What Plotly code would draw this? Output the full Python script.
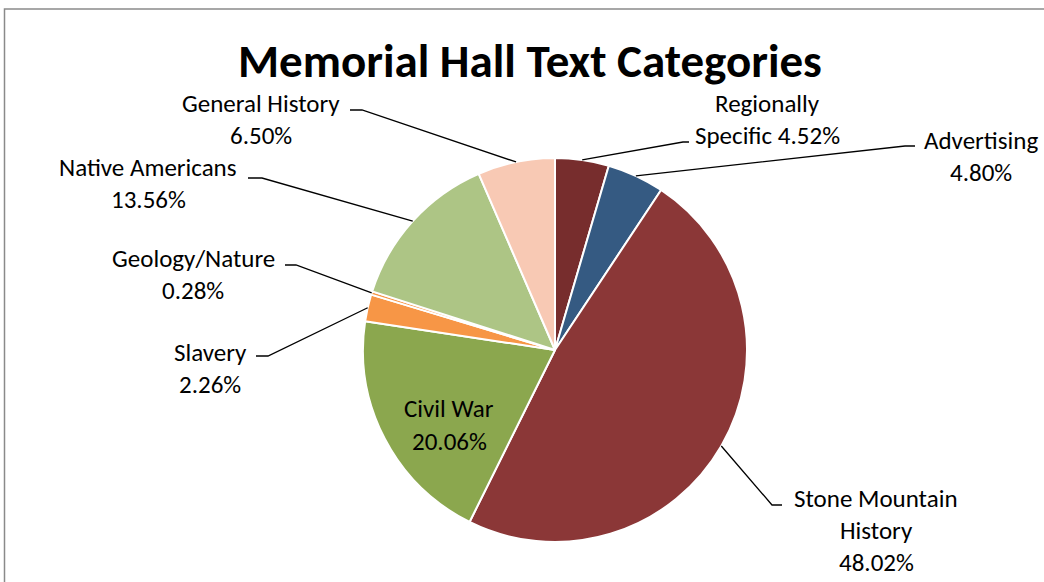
import math
import plotly.graph_objects as go

W, H = 1044, 582

categories = ["Regionally Specific", "Advertising", "Stone Mountain History", "Civil War",
              "Slavery", "Geology/Nature", "Native Americans", "General History"]
shares = [4.52, 4.80, 48.02, 20.06, 2.26, 0.28, 13.56, 6.50]
colors = ["#772D2D", "#355A82", "#8B3737", "#8BA74E", "#F79646", "#F79646", "#ADC585", "#F8C9B4"]

# label text lines per category
label_lines = {
    "Regionally Specific": ["Regionally", "Specific 4.52%"],
    "Advertising": ["Advertising", "4.80%"],
    "Stone Mountain History": ["Stone Mountain", "History", "48.02%"],
    "Civil War": ["Civil War", "20.06%"],
    "Slavery": ["Slavery", "2.26%"],
    "Geology/Nature": ["Geology/Nature", "0.28%"],
    "Native Americans": ["Native Americans", "13.56%"],
    "General History": ["General History", "6.50%"],
}

# label layout (pixel positions): centre x, first line y, elbow point, horizontal tail end
label_layout = {
    "Regionally Specific": dict(cx=767, y=103, elbow=(683, 142), tail=(689, 142)),
    "Advertising": dict(cx=981, y=140, elbow=(905, 146), tail=(915, 146)),
    "Stone Mountain History": dict(cx=876, y=498, elbow=(772, 505), tail=(782, 505)),
    "Civil War": dict(cx=449, y=409, elbow=None, tail=None),
    "Slavery": dict(cx=210, y=352, elbow=(268, 356), tail=(256, 356)),
    "Geology/Nature": dict(cx=193, y=258, elbow=(296, 265), tail=(285, 265)),
    "Native Americans": dict(cx=148, y=167, elbow=(262, 178), tail=(248, 178)),
    "General History": dict(cx=261, y=103, elbow=(362, 110), tail=(350, 110)),
}

CX, CY, R = 555, 350, 192
LINE_GAP = 32
FONT = "Carlito, Calibri, Lato, sans-serif"


def px(x):
    return x / W


def py(y):
    return 1 - y / H


fig = go.Figure(go.Pie(
    labels=categories,
    values=shares,
    sort=False,
    direction="clockwise",
    rotation=0,
    textinfo="none",
    hoverinfo="label+percent",
    marker=dict(colors=colors, line=dict(color="white", width=2)),
    domain=dict(x=[px(CX - R), px(CX + R)], y=[py(CY + R), py(CY - R)]),
    showlegend=False,
))

annotations = []
shapes = []

total = sum(shares)
cum = 0.0
for cat, val in zip(categories, shares):
    mid = (cum + val / 2) / total * 2 * math.pi
    cum += val
    lay = label_layout[cat]
    for i, line in enumerate(label_lines[cat]):
        annotations.append(dict(
            x=px(lay["cx"]), y=py(lay["y"] + i * LINE_GAP), xref="paper", yref="paper",
            text=line, showarrow=False, xanchor="center", yanchor="middle",
            font=dict(family=FONT, size=25, color="black"),
        ))
    if lay["elbow"] is not None:
        sx = CX + R * math.sin(mid)
        sy = CY - R * math.cos(mid)
        ex, ey = lay["elbow"]
        tx, ty = lay["tail"]
        path = f"M {px(sx)} {py(sy)} L {px(ex)} {py(ey)} L {px(tx)} {py(ty)}"
        shapes.append(dict(type="path", xref="paper", yref="paper", path=path,
                           line=dict(color="black", width=1.3)))

# chart title
annotations.append(dict(
    x=px(530), y=py(61), xref="paper", yref="paper", text="<b>Memorial Hall Text Categories</b>",
    showarrow=False, xanchor="center", yanchor="middle",
    font=dict(family=FONT, size=47, color="black"),
))

# chart area border
shapes.append(dict(type="rect", xref="paper", yref="paper",
                   x0=px(4.5), x1=px(W + 10), y0=py(H + 10), y1=py(9),
                   line=dict(color="#8A8A8A", width=1.5), fillcolor="rgba(0,0,0,0)"))

fig.update_layout(
    width=W, height=H,
    margin=dict(l=0, r=0, t=0, b=0),
    paper_bgcolor="white",
    plot_bgcolor="white",
    annotations=annotations,
    shapes=shapes,
)

fig.write_html("out.html")
